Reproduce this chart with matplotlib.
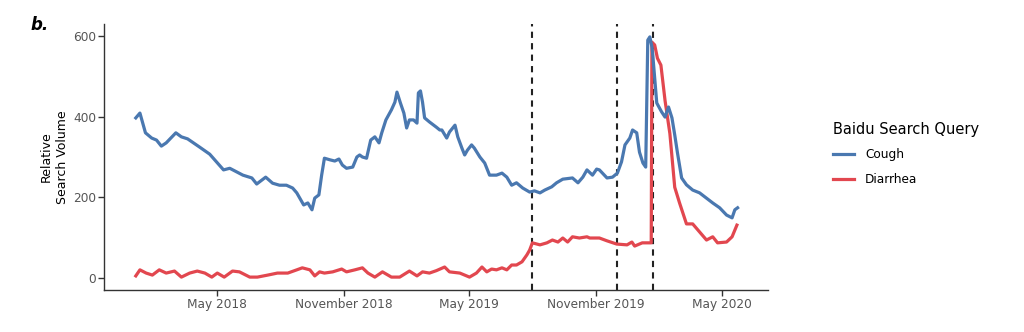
import numpy as np
import matplotlib
matplotlib.use('Agg')
import matplotlib.pyplot as plt
import matplotlib.dates as mdates

# Baidu search volume
cough_dates = ['2018-01-04', '2018-01-10', '2018-01-18', '2018-01-27', '2018-02-03', '2018-02-10',
               '2018-02-17', '2018-03-03', '2018-03-11', '2018-03-20', '2018-04-06', '2018-04-21',
               '2018-05-11', '2018-05-20', '2018-06-08', '2018-06-21', '2018-06-28', '2018-07-11',
               '2018-07-21', '2018-07-31', '2018-08-10', '2018-08-19', '2018-08-25', '2018-09-04',
               '2018-09-10', '2018-09-16', '2018-09-20', '2018-09-26', '2018-09-30', '2018-10-04',
               '2018-10-12', '2018-10-19', '2018-10-25', '2018-10-30', '2018-11-05', '2018-11-14',
               '2018-11-20', '2018-11-24', '2018-11-28', '2018-12-04', '2018-12-10', '2018-12-16',
               '2018-12-22', '2018-12-26', '2019-01-01', '2019-01-09', '2019-01-14', '2019-01-17',
               '2019-01-22', '2019-01-27', '2019-01-31', '2019-02-04', '2019-02-10', '2019-02-15',
               '2019-02-17', '2019-02-20', '2019-02-23', '2019-02-26', '2019-03-05', '2019-03-15',
               '2019-03-20', '2019-03-23', '2019-03-30', '2019-04-03', '2019-04-11', '2019-04-15',
               '2019-04-21', '2019-04-25', '2019-04-29', '2019-05-05', '2019-05-09', '2019-05-17',
               '2019-05-24', '2019-05-31', '2019-06-10', '2019-06-18', '2019-06-25', '2019-07-02',
               '2019-07-09', '2019-07-18', '2019-07-28', '2019-08-04', '2019-08-12', '2019-08-19',
               '2019-08-29', '2019-09-05', '2019-09-14', '2019-09-28', '2019-10-06', '2019-10-13',
               '2019-10-19', '2019-10-27', '2019-11-02', '2019-11-06', '2019-11-17', '2019-11-25',
               '2019-12-02', '2019-12-08', '2019-12-13', '2019-12-20', '2019-12-24', '2019-12-30',
               '2020-01-03', '2020-01-08', '2020-01-12', '2020-01-15', '2020-01-18', '2020-01-21',
               '2020-01-22', '2020-01-25', '2020-01-28', '2020-02-04', '2020-02-09', '2020-02-11',
               '2020-02-14', '2020-02-19', '2020-02-23', '2020-02-27', '2020-03-04', '2020-03-11',
               '2020-03-20', '2020-03-30', '2020-04-09', '2020-04-18', '2020-04-28', '2020-05-08',
               '2020-05-16', '2020-05-20', '2020-05-24']
cough = [397, 409, 360, 347, 342, 327,
         335, 360, 350, 345, 325, 307,
         268, 272, 255, 248, 233, 250,
         235, 230, 230, 223, 211, 181,
         186, 169, 198, 206, 255, 297,
         293, 290, 295, 280, 272, 275,
         300, 305, 300, 297, 342, 350,
         335, 360, 392, 417, 436, 461,
         434, 409, 372, 392, 392, 384,
         459, 464, 436, 397, 387, 374,
         367, 367, 347, 362, 379, 350,
         322, 305, 317, 330, 322, 300,
         285, 255, 255, 260, 250, 230,
         236, 223, 213, 216, 211, 218,
         226, 236, 245, 248, 236, 250,
         268, 255, 270, 268, 248, 250,
         260, 288, 330, 347, 367, 360,
         312, 285, 275, 590, 598, 573,
         558, 496, 434, 412, 399, 409,
         424, 397, 355, 310, 248, 231,
         218, 211, 198, 186, 174, 156,
         149, 169, 174]

diarrhea_dates = ['2018-01-04', '2018-01-10', '2018-01-19', '2018-01-28', '2018-02-07', '2018-02-17',
                  '2018-03-01', '2018-03-11', '2018-03-23', '2018-04-03', '2018-04-14', '2018-04-24',
                  '2018-05-02', '2018-05-12', '2018-05-24', '2018-06-03', '2018-06-18', '2018-06-29',
                  '2018-07-14', '2018-07-28', '2018-08-12', '2018-08-25', '2018-09-02', '2018-09-13',
                  '2018-09-20', '2018-09-27', '2018-10-04', '2018-10-16', '2018-10-29', '2018-11-05',
                  '2018-11-17', '2018-11-28', '2018-12-06', '2018-12-16', '2018-12-27', '2019-01-09',
                  '2019-01-21', '2019-02-04', '2019-02-15', '2019-02-23', '2019-03-05', '2019-03-15',
                  '2019-03-27', '2019-04-03', '2019-04-18', '2019-05-02', '2019-05-12', '2019-05-20',
                  '2019-05-27', '2019-06-03', '2019-06-10', '2019-06-18', '2019-06-25', '2019-07-02',
                  '2019-07-09', '2019-07-17', '2019-07-24', '2019-07-28', '2019-08-01', '2019-08-12',
                  '2019-08-22', '2019-08-30', '2019-09-07', '2019-09-14', '2019-09-21', '2019-09-28',
                  '2019-10-08', '2019-10-19', '2019-10-23', '2019-11-06', '2019-11-17', '2019-12-01',
                  '2019-12-16', '2019-12-23', '2019-12-27', '2020-01-07', '2020-01-15', '2020-01-20',
                  '2020-01-21', '2020-01-25', '2020-01-29', '2020-02-03', '2020-02-09', '2020-02-16',
                  '2020-02-23', '2020-03-01', '2020-03-11', '2020-03-20', '2020-03-30', '2020-04-09',
                  '2020-04-18', '2020-04-25', '2020-05-08', '2020-05-16', '2020-05-23']
diarrhea = [5, 20, 12, 7, 20, 12,
            17, 2, 12, 17, 12, 2,
            12, 2, 17, 15, 2, 2,
            7, 12, 12, 20, 25, 20,
            5, 15, 12, 15, 22, 15,
            20, 25, 12, 2, 15, 2,
            2, 17, 5, 15, 12, 18,
            27, 15, 12, 2, 12, 27,
            15, 22, 20, 25, 20, 32,
            32, 40, 57, 69, 87, 82,
            87, 94, 89, 99, 89, 102,
            99, 102, 99, 99, 92, 84,
            82, 89, 79, 87, 87, 87,
            585, 578, 545, 528, 440, 358,
            225, 186, 134, 134, 114, 94,
            102, 87, 89, 102, 131]

events = ['2019-08-01', '2019-12-01', '2020-01-23']
xticks = ['2018-05-01', '2018-11-01', '2019-05-01', '2019-11-01', '2020-05-01']

blue = '#4a78b0'
red = '#e2474f'
grey = '#555555'

fig = plt.figure(figsize=(10.24, 3.32), dpi=100)
ax = fig.add_axes([104 / 1024, 42 / 332, 664 / 1024, 266 / 332])

for d in events:
    ax.axvline(np.datetime64(d), color='#222222', lw=1.5, ls=(0, (3, 2.5)), zorder=1)

ax.plot(np.array(cough_dates, dtype='datetime64[D]'), cough, color=blue, lw=2.3,
        label='Cough', zorder=3)
ax.plot(np.array(diarrhea_dates, dtype='datetime64[D]'), diarrhea, color=red, lw=2.3,
        label='Diarrhea', zorder=2)

ax.set_xlim(np.datetime64('2017-11-19'), np.datetime64('2020-07-07'))
ax.set_ylim(-30, 630)
ax.set_xticks(np.array(xticks, dtype='datetime64[D]'))
ax.xaxis.set_major_formatter(mdates.DateFormatter('%B %Y'))
ax.set_yticks([0, 200, 400, 600])

for s in ['top', 'right']:
    ax.spines[s].set_visible(False)
for s in ['left', 'bottom']:
    ax.spines[s].set_color('#333333')
    ax.spines[s].set_linewidth(1.0)
ax.tick_params(colors='#333333', labelcolor=grey, labelsize=8.7, length=4, width=1, pad=1.5)

ax.set_ylabel('Relative\nSearch Volume', fontsize=9, linespacing=1.35, labelpad=3)

fig.text(30 / 1024, 1 - 25 / 332, 'b.', fontsize=12, fontweight='bold', fontstyle='italic',
         va='center', ha='left')

leg = ax.legend(loc='upper left', bbox_to_anchor=(833 / 1024, 1 - 122 / 332),
                bbox_transform=fig.transFigure, frameon=False, borderpad=0,
                borderaxespad=0, title='Baidu Search Query', title_fontsize=10.5,
                fontsize=8.7, handlelength=1.75, handletextpad=0.9, labelspacing=0.95,
                alignment='left')

plt.savefig('out.png', dpi=100)
